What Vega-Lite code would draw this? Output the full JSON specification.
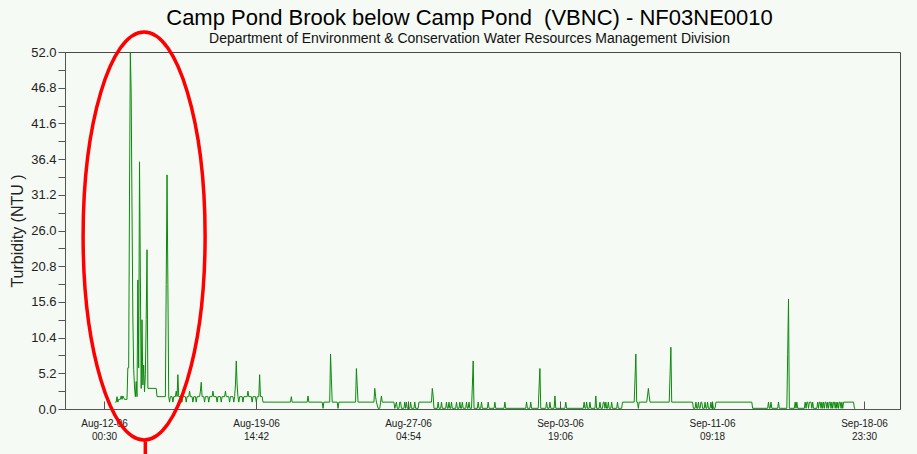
{
  "$schema": "https://vega.github.io/schema/vega-lite/v6.json",
  "autosize": {"type": "none"},
  "width": 835,
  "height": 357,
  "padding": {"left": 65, "top": 52, "right": 17, "bottom": 45},
  "background": "#f5faf5",
  "config": {
    "font": "Liberation Sans",
    "view": {"stroke": "#4a4a4a", "strokeWidth": 1, "fill": "#f5faf5"}
  },
  "title": {
    "text": "Camp Pond Brook below Camp Pond \u00a0(VBNC) - NF03NE0010",
    "subtitle": "Department of Environment & Conservation Water Resources Management Division",
    "font": "Liberation Sans",
    "subtitleFont": "Liberation Sans",
    "fontSize": 22,
    "subtitleFontSize": 14,
    "fontWeight": "normal",
    "color": "#000000",
    "subtitleColor": "#111111",
    "anchor": "middle",
    "dx": -13,
    "offset": -22,
    "subtitlePadding": 2
  },
  "resolve": {"axis": {"y": "independent"}},
  "layer": [
    {
      "data": {
        "values": [
          {"time": "2006-08-12T14:00", "turbidity": 1.0},
          {"time": "2006-08-12T15:00", "turbidity": 1.0},
          {"time": "2006-08-12T16:00", "turbidity": 1.8},
          {"time": "2006-08-12T17:00", "turbidity": 1.0},
          {"time": "2006-08-12T18:00", "turbidity": 1.4},
          {"time": "2006-08-12T20:00", "turbidity": 1.4},
          {"time": "2006-08-12T21:00", "turbidity": 1.9},
          {"time": "2006-08-12T22:00", "turbidity": 1.4},
          {"time": "2006-08-12T23:00", "turbidity": 1.9},
          {"time": "2006-08-13T01:00", "turbidity": 1.4},
          {"time": "2006-08-13T04:00", "turbidity": 1.4},
          {"time": "2006-08-13T05:00", "turbidity": 6.0},
          {"time": "2006-08-13T06:00", "turbidity": 6.0},
          {"time": "2006-08-13T07:00", "turbidity": 31.0},
          {"time": "2006-08-13T08:00", "turbidity": 52.0},
          {"time": "2006-08-13T09:00", "turbidity": 46.0},
          {"time": "2006-08-13T10:00", "turbidity": 29.0},
          {"time": "2006-08-13T11:00", "turbidity": 13.4},
          {"time": "2006-08-13T12:00", "turbidity": 5.8},
          {"time": "2006-08-13T13:00", "turbidity": 3.2},
          {"time": "2006-08-13T14:00", "turbidity": 1.8},
          {"time": "2006-08-13T15:00", "turbidity": 4.0},
          {"time": "2006-08-13T16:00", "turbidity": 1.8},
          {"time": "2006-08-13T17:00", "turbidity": 18.8},
          {"time": "2006-08-13T18:00", "turbidity": 6.0},
          {"time": "2006-08-13T19:00", "turbidity": 36.0},
          {"time": "2006-08-13T20:00", "turbidity": 19.5},
          {"time": "2006-08-13T21:00", "turbidity": 3.0},
          {"time": "2006-08-13T22:00", "turbidity": 13.0},
          {"time": "2006-08-13T23:00", "turbidity": 3.5},
          {"time": "2006-08-14T00:00", "turbidity": 6.4},
          {"time": "2006-08-14T01:00", "turbidity": 2.5},
          {"time": "2006-08-14T02:00", "turbidity": 5.0},
          {"time": "2006-08-14T03:00", "turbidity": 13.0},
          {"time": "2006-08-14T04:00", "turbidity": 23.2},
          {"time": "2006-08-14T05:00", "turbidity": 3.0},
          {"time": "2006-08-14T15:00", "turbidity": 3.0},
          {"time": "2006-08-14T16:00", "turbidity": 1.8},
          {"time": "2006-08-15T02:00", "turbidity": 1.8},
          {"time": "2006-08-15T03:00", "turbidity": 18.1},
          {"time": "2006-08-15T04:00", "turbidity": 34.1},
          {"time": "2006-08-15T05:00", "turbidity": 18.1},
          {"time": "2006-08-15T06:00", "turbidity": 1.8},
          {"time": "2006-08-15T07:00", "turbidity": 1.0},
          {"time": "2006-08-15T08:00", "turbidity": 1.8},
          {"time": "2006-08-15T10:00", "turbidity": 1.8},
          {"time": "2006-08-15T11:00", "turbidity": 1.0},
          {"time": "2006-08-15T12:00", "turbidity": 1.8},
          {"time": "2006-08-15T14:00", "turbidity": 1.8},
          {"time": "2006-08-15T15:00", "turbidity": 2.6},
          {"time": "2006-08-15T16:00", "turbidity": 1.8},
          {"time": "2006-08-15T17:00", "turbidity": 5.0},
          {"time": "2006-08-15T18:00", "turbidity": 1.8},
          {"time": "2006-08-15T20:00", "turbidity": 1.8},
          {"time": "2006-08-15T21:00", "turbidity": 1.0},
          {"time": "2006-08-15T22:00", "turbidity": 1.0},
          {"time": "2006-08-15T23:00", "turbidity": 1.8},
          {"time": "2006-08-16T02:00", "turbidity": 1.8},
          {"time": "2006-08-16T03:00", "turbidity": 1.0},
          {"time": "2006-08-16T04:00", "turbidity": 1.8},
          {"time": "2006-08-16T06:00", "turbidity": 1.8},
          {"time": "2006-08-16T07:00", "turbidity": 2.6},
          {"time": "2006-08-16T08:00", "turbidity": 1.8},
          {"time": "2006-08-16T10:00", "turbidity": 1.8},
          {"time": "2006-08-16T11:00", "turbidity": 1.0},
          {"time": "2006-08-16T12:00", "turbidity": 1.8},
          {"time": "2006-08-16T14:00", "turbidity": 1.8},
          {"time": "2006-08-16T15:00", "turbidity": 1.0},
          {"time": "2006-08-16T16:00", "turbidity": 1.8},
          {"time": "2006-08-16T19:00", "turbidity": 1.8},
          {"time": "2006-08-16T20:00", "turbidity": 2.6},
          {"time": "2006-08-16T21:00", "turbidity": 3.9},
          {"time": "2006-08-16T22:00", "turbidity": 1.8},
          {"time": "2006-08-17T00:00", "turbidity": 1.8},
          {"time": "2006-08-17T01:00", "turbidity": 1.0},
          {"time": "2006-08-17T02:00", "turbidity": 1.8},
          {"time": "2006-08-17T05:00", "turbidity": 1.8},
          {"time": "2006-08-17T06:00", "turbidity": 1.0},
          {"time": "2006-08-17T07:00", "turbidity": 1.8},
          {"time": "2006-08-17T10:00", "turbidity": 1.8},
          {"time": "2006-08-17T11:00", "turbidity": 2.6},
          {"time": "2006-08-17T12:00", "turbidity": 1.8},
          {"time": "2006-08-17T15:00", "turbidity": 1.8},
          {"time": "2006-08-17T16:00", "turbidity": 1.0},
          {"time": "2006-08-17T17:00", "turbidity": 1.8},
          {"time": "2006-08-17T20:00", "turbidity": 1.8},
          {"time": "2006-08-17T21:00", "turbidity": 1.0},
          {"time": "2006-08-17T22:00", "turbidity": 1.8},
          {"time": "2006-08-18T01:00", "turbidity": 1.8},
          {"time": "2006-08-18T02:00", "turbidity": 2.6},
          {"time": "2006-08-18T03:00", "turbidity": 1.8},
          {"time": "2006-08-18T06:00", "turbidity": 1.8},
          {"time": "2006-08-18T07:00", "turbidity": 1.0},
          {"time": "2006-08-18T08:00", "turbidity": 1.8},
          {"time": "2006-08-18T11:00", "turbidity": 1.8},
          {"time": "2006-08-18T12:00", "turbidity": 1.0},
          {"time": "2006-08-18T13:00", "turbidity": 1.8},
          {"time": "2006-08-18T14:00", "turbidity": 3.5},
          {"time": "2006-08-18T15:00", "turbidity": 7.0},
          {"time": "2006-08-18T16:00", "turbidity": 3.5},
          {"time": "2006-08-18T17:00", "turbidity": 1.8},
          {"time": "2006-08-18T18:00", "turbidity": 1.0},
          {"time": "2006-08-18T19:00", "turbidity": 1.8},
          {"time": "2006-08-18T22:00", "turbidity": 1.8},
          {"time": "2006-08-18T23:00", "turbidity": 1.0},
          {"time": "2006-08-19T00:00", "turbidity": 1.8},
          {"time": "2006-08-19T04:00", "turbidity": 1.8},
          {"time": "2006-08-19T05:00", "turbidity": 2.6},
          {"time": "2006-08-19T06:00", "turbidity": 1.8},
          {"time": "2006-08-19T09:00", "turbidity": 1.8},
          {"time": "2006-08-19T10:00", "turbidity": 1.0},
          {"time": "2006-08-19T11:00", "turbidity": 1.8},
          {"time": "2006-08-19T14:00", "turbidity": 1.8},
          {"time": "2006-08-19T15:00", "turbidity": 1.0},
          {"time": "2006-08-19T16:00", "turbidity": 1.8},
          {"time": "2006-08-19T18:00", "turbidity": 1.8},
          {"time": "2006-08-19T19:00", "turbidity": 5.0},
          {"time": "2006-08-19T20:00", "turbidity": 1.8},
          {"time": "2006-08-19T22:00", "turbidity": 1.8},
          {"time": "2006-08-19T23:00", "turbidity": 1.0},
          {"time": "2006-08-21T08:00", "turbidity": 1.0},
          {"time": "2006-08-21T09:00", "turbidity": 1.8},
          {"time": "2006-08-21T10:00", "turbidity": 1.0},
          {"time": "2006-08-22T04:00", "turbidity": 1.0},
          {"time": "2006-08-22T05:00", "turbidity": 1.9},
          {"time": "2006-08-22T06:00", "turbidity": 1.0},
          {"time": "2006-08-22T22:00", "turbidity": 1.0},
          {"time": "2006-08-22T23:00", "turbidity": 0.1},
          {"time": "2006-08-23T00:00", "turbidity": 1.0},
          {"time": "2006-08-23T07:00", "turbidity": 1.0},
          {"time": "2006-08-23T08:00", "turbidity": 8.0},
          {"time": "2006-08-23T09:00", "turbidity": 4.4},
          {"time": "2006-08-23T10:00", "turbidity": 1.0},
          {"time": "2006-08-23T16:00", "turbidity": 1.0},
          {"time": "2006-08-23T17:00", "turbidity": 0.1},
          {"time": "2006-08-23T18:00", "turbidity": 1.0},
          {"time": "2006-08-24T14:00", "turbidity": 1.0},
          {"time": "2006-08-24T15:00", "turbidity": 5.9},
          {"time": "2006-08-24T16:00", "turbidity": 3.4},
          {"time": "2006-08-24T17:00", "turbidity": 1.0},
          {"time": "2006-08-25T12:00", "turbidity": 1.0},
          {"time": "2006-08-25T13:00", "turbidity": 3.0},
          {"time": "2006-08-25T14:00", "turbidity": 1.8},
          {"time": "2006-08-25T15:00", "turbidity": 1.0},
          {"time": "2006-08-25T17:00", "turbidity": 0.1},
          {"time": "2006-08-25T19:00", "turbidity": 0.1},
          {"time": "2006-08-25T20:00", "turbidity": 1.0},
          {"time": "2006-08-25T21:00", "turbidity": 1.9},
          {"time": "2006-08-25T22:00", "turbidity": 1.0},
          {"time": "2006-08-26T12:00", "turbidity": 1.0},
          {"time": "2006-08-26T13:00", "turbidity": 0.1},
          {"time": "2006-08-26T15:00", "turbidity": 1.0},
          {"time": "2006-08-26T16:00", "turbidity": 0.1},
          {"time": "2006-08-26T18:00", "turbidity": 0.1},
          {"time": "2006-08-26T19:00", "turbidity": 1.0},
          {"time": "2006-08-26T20:00", "turbidity": 1.0},
          {"time": "2006-08-26T21:00", "turbidity": 0.1},
          {"time": "2006-08-27T00:00", "turbidity": 0.1},
          {"time": "2006-08-27T01:00", "turbidity": 1.0},
          {"time": "2006-08-27T02:00", "turbidity": 0.1},
          {"time": "2006-08-27T03:00", "turbidity": 1.0},
          {"time": "2006-08-27T04:00", "turbidity": 0.1},
          {"time": "2006-08-27T07:00", "turbidity": 0.1},
          {"time": "2006-08-27T08:00", "turbidity": 1.0},
          {"time": "2006-08-27T09:00", "turbidity": 0.1},
          {"time": "2006-08-27T12:00", "turbidity": 0.1},
          {"time": "2006-08-27T13:00", "turbidity": 1.0},
          {"time": "2006-08-27T14:00", "turbidity": 0.1},
          {"time": "2006-08-27T17:00", "turbidity": 0.1},
          {"time": "2006-08-27T18:00", "turbidity": 1.0},
          {"time": "2006-08-28T09:00", "turbidity": 1.0},
          {"time": "2006-08-28T10:00", "turbidity": 3.0},
          {"time": "2006-08-28T11:00", "turbidity": 1.9},
          {"time": "2006-08-28T12:00", "turbidity": 0.1},
          {"time": "2006-08-28T16:00", "turbidity": 0.1},
          {"time": "2006-08-28T17:00", "turbidity": 1.0},
          {"time": "2006-08-28T18:00", "turbidity": 0.1},
          {"time": "2006-08-28T20:00", "turbidity": 0.1},
          {"time": "2006-08-28T21:00", "turbidity": 1.0},
          {"time": "2006-08-28T22:00", "turbidity": 0.1},
          {"time": "2006-08-29T02:00", "turbidity": 0.1},
          {"time": "2006-08-29T03:00", "turbidity": 1.0},
          {"time": "2006-08-29T04:00", "turbidity": 0.1},
          {"time": "2006-08-29T05:00", "turbidity": 0.1},
          {"time": "2006-08-29T06:00", "turbidity": 1.0},
          {"time": "2006-08-29T07:00", "turbidity": 0.1},
          {"time": "2006-08-29T08:00", "turbidity": 0.1},
          {"time": "2006-08-29T09:00", "turbidity": 1.0},
          {"time": "2006-08-29T10:00", "turbidity": 0.1},
          {"time": "2006-08-29T14:00", "turbidity": 0.1},
          {"time": "2006-08-29T15:00", "turbidity": 1.0},
          {"time": "2006-08-29T16:00", "turbidity": 0.1},
          {"time": "2006-08-29T18:00", "turbidity": 0.1},
          {"time": "2006-08-29T19:00", "turbidity": 1.0},
          {"time": "2006-08-29T20:00", "turbidity": 0.1},
          {"time": "2006-08-29T21:00", "turbidity": 0.1},
          {"time": "2006-08-29T22:00", "turbidity": 1.0},
          {"time": "2006-08-29T23:00", "turbidity": 0.1},
          {"time": "2006-08-30T02:00", "turbidity": 0.1},
          {"time": "2006-08-30T03:00", "turbidity": 1.0},
          {"time": "2006-08-30T04:00", "turbidity": 0.1},
          {"time": "2006-08-30T05:00", "turbidity": 0.1},
          {"time": "2006-08-30T06:00", "turbidity": 1.0},
          {"time": "2006-08-30T07:00", "turbidity": 0.1},
          {"time": "2006-08-30T09:00", "turbidity": 0.1},
          {"time": "2006-08-30T10:00", "turbidity": 3.35},
          {"time": "2006-08-30T11:00", "turbidity": 7.0},
          {"time": "2006-08-30T12:00", "turbidity": 0.1},
          {"time": "2006-08-30T16:00", "turbidity": 0.1},
          {"time": "2006-08-30T17:00", "turbidity": 1.0},
          {"time": "2006-08-30T18:00", "turbidity": 0.1},
          {"time": "2006-08-30T20:00", "turbidity": 0.1},
          {"time": "2006-08-30T21:00", "turbidity": 1.0},
          {"time": "2006-08-30T22:00", "turbidity": 0.1},
          {"time": "2006-08-31T04:00", "turbidity": 0.1},
          {"time": "2006-08-31T05:00", "turbidity": 1.0},
          {"time": "2006-08-31T06:00", "turbidity": 0.1},
          {"time": "2006-08-31T12:00", "turbidity": 0.1},
          {"time": "2006-08-31T13:00", "turbidity": 1.0},
          {"time": "2006-08-31T14:00", "turbidity": 0.1},
          {"time": "2006-09-01T00:00", "turbidity": 0.1},
          {"time": "2006-09-01T01:00", "turbidity": 1.0},
          {"time": "2006-09-01T02:00", "turbidity": 0.1},
          {"time": "2006-09-02T02:00", "turbidity": 0.1},
          {"time": "2006-09-02T03:00", "turbidity": 1.0},
          {"time": "2006-09-02T04:00", "turbidity": 0.1},
          {"time": "2006-09-02T07:00", "turbidity": 0.1},
          {"time": "2006-09-02T08:00", "turbidity": 1.0},
          {"time": "2006-09-02T09:00", "turbidity": 0.1},
          {"time": "2006-09-02T17:00", "turbidity": 0.1},
          {"time": "2006-09-02T18:00", "turbidity": 3.2},
          {"time": "2006-09-02T19:00", "turbidity": 5.9},
          {"time": "2006-09-02T20:00", "turbidity": 0.1},
          {"time": "2006-09-03T02:00", "turbidity": 0.1},
          {"time": "2006-09-03T03:00", "turbidity": 1.0},
          {"time": "2006-09-03T04:00", "turbidity": 0.1},
          {"time": "2006-09-03T06:00", "turbidity": 0.1},
          {"time": "2006-09-03T07:00", "turbidity": 1.0},
          {"time": "2006-09-03T08:00", "turbidity": 0.1},
          {"time": "2006-09-03T12:00", "turbidity": 0.1},
          {"time": "2006-09-03T13:00", "turbidity": 1.9},
          {"time": "2006-09-03T14:00", "turbidity": 0.1},
          {"time": "2006-09-04T01:00", "turbidity": 0.1},
          {"time": "2006-09-04T02:00", "turbidity": 1.0},
          {"time": "2006-09-04T03:00", "turbidity": 0.1},
          {"time": "2006-09-04T23:00", "turbidity": 0.1},
          {"time": "2006-09-05T00:00", "turbidity": 1.0},
          {"time": "2006-09-05T01:00", "turbidity": 0.1},
          {"time": "2006-09-05T02:00", "turbidity": 0.1},
          {"time": "2006-09-05T03:00", "turbidity": 1.0},
          {"time": "2006-09-05T04:00", "turbidity": 0.1},
          {"time": "2006-09-05T06:00", "turbidity": 0.1},
          {"time": "2006-09-05T07:00", "turbidity": 1.0},
          {"time": "2006-09-05T08:00", "turbidity": 0.1},
          {"time": "2006-09-05T13:00", "turbidity": 0.1},
          {"time": "2006-09-05T14:00", "turbidity": 1.9},
          {"time": "2006-09-05T15:00", "turbidity": 0.1},
          {"time": "2006-09-05T18:00", "turbidity": 0.1},
          {"time": "2006-09-05T19:00", "turbidity": 1.0},
          {"time": "2006-09-05T20:00", "turbidity": 0.1},
          {"time": "2006-09-05T22:00", "turbidity": 0.1},
          {"time": "2006-09-05T23:00", "turbidity": 1.0},
          {"time": "2006-09-06T00:00", "turbidity": 1.0},
          {"time": "2006-09-06T01:00", "turbidity": 0.1},
          {"time": "2006-09-06T02:00", "turbidity": 1.0},
          {"time": "2006-09-06T03:00", "turbidity": 0.1},
          {"time": "2006-09-06T04:00", "turbidity": 0.1},
          {"time": "2006-09-06T05:00", "turbidity": 1.0},
          {"time": "2006-09-06T06:00", "turbidity": 0.1},
          {"time": "2006-09-06T08:00", "turbidity": 0.1},
          {"time": "2006-09-06T09:00", "turbidity": 1.0},
          {"time": "2006-09-06T10:00", "turbidity": 0.1},
          {"time": "2006-09-06T15:00", "turbidity": 0.1},
          {"time": "2006-09-06T16:00", "turbidity": 1.0},
          {"time": "2006-09-06T17:00", "turbidity": 0.1},
          {"time": "2006-09-06T21:00", "turbidity": 0.1},
          {"time": "2006-09-06T22:00", "turbidity": 1.0},
          {"time": "2006-09-07T12:00", "turbidity": 1.0},
          {"time": "2006-09-07T13:00", "turbidity": 4.4},
          {"time": "2006-09-07T14:00", "turbidity": 8.0},
          {"time": "2006-09-07T15:00", "turbidity": 1.0},
          {"time": "2006-09-07T16:00", "turbidity": 1.0},
          {"time": "2006-09-07T17:00", "turbidity": 0.1},
          {"time": "2006-09-07T18:00", "turbidity": 1.0},
          {"time": "2006-09-08T03:00", "turbidity": 1.0},
          {"time": "2006-09-08T04:00", "turbidity": 1.9},
          {"time": "2006-09-08T05:00", "turbidity": 3.0},
          {"time": "2006-09-08T06:00", "turbidity": 1.9},
          {"time": "2006-09-08T07:00", "turbidity": 1.0},
          {"time": "2006-09-09T06:00", "turbidity": 1.0},
          {"time": "2006-09-09T07:00", "turbidity": 5.0},
          {"time": "2006-09-09T08:00", "turbidity": 9.0},
          {"time": "2006-09-09T09:00", "turbidity": 1.0},
          {"time": "2006-09-10T10:00", "turbidity": 1.0},
          {"time": "2006-09-10T11:00", "turbidity": 0.1},
          {"time": "2006-09-10T13:00", "turbidity": 0.1},
          {"time": "2006-09-10T14:00", "turbidity": 1.0},
          {"time": "2006-09-10T15:00", "turbidity": 0.1},
          {"time": "2006-09-10T16:00", "turbidity": 0.1},
          {"time": "2006-09-10T17:00", "turbidity": 1.0},
          {"time": "2006-09-10T18:00", "turbidity": 0.1},
          {"time": "2006-09-10T19:00", "turbidity": 0.1},
          {"time": "2006-09-10T20:00", "turbidity": 1.0},
          {"time": "2006-09-10T21:00", "turbidity": 1.0},
          {"time": "2006-09-10T22:00", "turbidity": 0.1},
          {"time": "2006-09-11T00:00", "turbidity": 0.1},
          {"time": "2006-09-11T01:00", "turbidity": 1.0},
          {"time": "2006-09-11T02:00", "turbidity": 0.1},
          {"time": "2006-09-11T03:00", "turbidity": 0.1},
          {"time": "2006-09-11T04:00", "turbidity": 1.0},
          {"time": "2006-09-11T05:00", "turbidity": 0.1},
          {"time": "2006-09-11T07:00", "turbidity": 0.1},
          {"time": "2006-09-11T08:00", "turbidity": 1.0},
          {"time": "2006-09-11T09:00", "turbidity": 0.1},
          {"time": "2006-09-11T10:00", "turbidity": 1.0},
          {"time": "2006-09-11T11:00", "turbidity": 0.1},
          {"time": "2006-09-11T13:00", "turbidity": 0.1},
          {"time": "2006-09-11T14:00", "turbidity": 1.0},
          {"time": "2006-09-13T09:00", "turbidity": 1.0},
          {"time": "2006-09-13T10:00", "turbidity": 0.1},
          {"time": "2006-09-14T04:00", "turbidity": 0.1},
          {"time": "2006-09-14T05:00", "turbidity": 1.0},
          {"time": "2006-09-14T06:00", "turbidity": 0.1},
          {"time": "2006-09-14T07:00", "turbidity": 0.1},
          {"time": "2006-09-14T08:00", "turbidity": 1.0},
          {"time": "2006-09-14T09:00", "turbidity": 0.1},
          {"time": "2006-09-14T16:00", "turbidity": 0.1},
          {"time": "2006-09-14T17:00", "turbidity": 1.0},
          {"time": "2006-09-14T18:00", "turbidity": 0.1},
          {"time": "2006-09-15T03:00", "turbidity": 0.1},
          {"time": "2006-09-15T04:00", "turbidity": 7.9},
          {"time": "2006-09-15T05:00", "turbidity": 16.0},
          {"time": "2006-09-15T06:00", "turbidity": 0.1},
          {"time": "2006-09-15T12:00", "turbidity": 0.1},
          {"time": "2006-09-15T13:00", "turbidity": 1.0},
          {"time": "2006-09-15T14:00", "turbidity": 0.1},
          {"time": "2006-09-15T15:00", "turbidity": 1.0},
          {"time": "2006-09-15T16:00", "turbidity": 0.1},
          {"time": "2006-09-16T00:00", "turbidity": 0.1},
          {"time": "2006-09-16T01:00", "turbidity": 1.0},
          {"time": "2006-09-16T02:00", "turbidity": 0.1},
          {"time": "2006-09-16T03:00", "turbidity": 1.0},
          {"time": "2006-09-16T04:00", "turbidity": 1.0},
          {"time": "2006-09-16T05:00", "turbidity": 0.1},
          {"time": "2006-09-16T06:00", "turbidity": 1.0},
          {"time": "2006-09-16T08:00", "turbidity": 1.0},
          {"time": "2006-09-16T09:00", "turbidity": 0.1},
          {"time": "2006-09-16T10:00", "turbidity": 1.0},
          {"time": "2006-09-16T11:00", "turbidity": 0.1},
          {"time": "2006-09-16T15:00", "turbidity": 0.1},
          {"time": "2006-09-16T16:00", "turbidity": 1.0},
          {"time": "2006-09-16T17:00", "turbidity": 0.1},
          {"time": "2006-09-16T18:00", "turbidity": 1.0},
          {"time": "2006-09-16T19:00", "turbidity": 1.0},
          {"time": "2006-09-16T20:00", "turbidity": 0.1},
          {"time": "2006-09-16T21:00", "turbidity": 1.0},
          {"time": "2006-09-16T22:00", "turbidity": 0.1},
          {"time": "2006-09-16T23:00", "turbidity": 1.0},
          {"time": "2006-09-17T00:00", "turbidity": 0.1},
          {"time": "2006-09-17T01:00", "turbidity": 1.0},
          {"time": "2006-09-17T02:00", "turbidity": 1.0},
          {"time": "2006-09-17T03:00", "turbidity": 0.1},
          {"time": "2006-09-17T04:00", "turbidity": 1.0},
          {"time": "2006-09-17T05:00", "turbidity": 0.1},
          {"time": "2006-09-17T06:00", "turbidity": 1.0},
          {"time": "2006-09-17T07:00", "turbidity": 1.0},
          {"time": "2006-09-17T08:00", "turbidity": 0.1},
          {"time": "2006-09-17T09:00", "turbidity": 1.0},
          {"time": "2006-09-17T10:00", "turbidity": 0.1},
          {"time": "2006-09-17T11:00", "turbidity": 1.0},
          {"time": "2006-09-17T12:00", "turbidity": 1.0},
          {"time": "2006-09-17T13:00", "turbidity": 0.1},
          {"time": "2006-09-17T14:00", "turbidity": 1.0},
          {"time": "2006-09-17T15:00", "turbidity": 0.1},
          {"time": "2006-09-17T16:00", "turbidity": 1.0},
          {"time": "2006-09-17T17:00", "turbidity": 0.1},
          {"time": "2006-09-17T18:00", "turbidity": 1.0},
          {"time": "2006-09-17T19:00", "turbidity": 1.0},
          {"time": "2006-09-17T20:00", "turbidity": 0.1},
          {"time": "2006-09-17T21:00", "turbidity": 1.0},
          {"time": "2006-09-17T22:00", "turbidity": 0.1},
          {"time": "2006-09-17T23:00", "turbidity": 1.0},
          {"time": "2006-09-18T11:00", "turbidity": 1.0},
          {"time": "2006-09-18T12:00", "turbidity": 0.1},
          {"time": "2006-09-18T13:00", "turbidity": 0.1}
        ]
      },
      "mark": {"type": "line", "color": "#0b8a0b", "strokeWidth": 1, "interpolate": "linear"},
      "encoding": {
        "x": {
          "field": "time",
          "type": "temporal",
          "scale": {
            "domain": [
              {"year": 2006, "month": 8, "date": 10, "hours": 1, "minutes": 40},
              {"year": 2006, "month": 9, "date": 20, "hours": 18, "minutes": 40}
            ]
          },
          "axis": {
            "title": null,
            "grid": false,
            "values": [
              {"year": 2006, "month": 8, "date": 12, "hours": 0, "minutes": 30},
              {"year": 2006, "month": 8, "date": 19, "hours": 14, "minutes": 42},
              {"year": 2006, "month": 8, "date": 27, "hours": 4, "minutes": 54},
              {"year": 2006, "month": 9, "date": 3, "hours": 19, "minutes": 6},
              {"year": 2006, "month": 9, "date": 11, "hours": 9, "minutes": 18},
              {"year": 2006, "month": 9, "date": 18, "hours": 23, "minutes": 30}
            ],
            "labelExpr": "[timeFormat(datum.value, '%b-%d-%y'), timeFormat(datum.value, '%H:%M')]",
            "labelFont": "Liberation Sans",
            "labelFontSize": 10,
            "labelLineHeight": 13,
            "labelColor": "#222222",
            "labelOverlap": false,
            "labelFlush": false,
            "labelPadding": 17,
            "tickSize": -8,
            "tickColor": "#555555",
            "domainColor": "#555555"
          }
        },
        "y": {
          "field": "turbidity",
          "type": "quantitative",
          "scale": {"domain": [0, 52], "nice": false, "zero": true},
          "axis": {
            "orient": "left",
            "title": "Turbidity (NTU )",
            "titleFont": "Liberation Sans",
            "titleFontSize": 16,
            "titleFontWeight": "normal",
            "titleColor": "#222222",
            "titleX": -48,
            "titleY": 178.5,
            "titleAngle": 270,
            "titleAlign": "center",
            "titleBaseline": "middle",
            "grid": false,
            "values": [0, 5.2, 10.4, 15.6, 20.8, 26, 31.2, 36.4, 41.6, 46.8, 52],
            "format": ".1f",
            "labelFont": "Liberation Sans",
            "labelFontSize": 13,
            "labelColor": "#222222",
            "labelOverlap": false,
            "labelPadding": 2,
            "tickSize": 7,
            "tickColor": "#555555",
            "domainColor": "#555555"
          }
        }
      }
    },
    {
      "data": {"values": [{"time": "2006-08-14T00:30", "turbidity": 25.2}]},
      "mark": {
        "type": "point",
        "shape": "M -0.299 0 A 0.299 1 0 1 0 0.299 0 A 0.299 1 0 1 0 -0.299 0 Z M 0.006 1 L 0.006 1.07",
        "size": 166464,
        "filled": false,
        "stroke": "#ff0000",
        "strokeWidth": 3.5,
        "opacity": 1
      },
      "encoding": {
        "x": {"field": "time", "type": "temporal"},
        "y": {
          "field": "turbidity",
          "type": "quantitative",
          "axis": {
            "orient": "left",
            "title": null,
            "grid": false,
            "labels": false,
            "domain": false,
            "values": [2.6, 7.8, 13, 18.2, 23.4, 28.6, 33.8, 39, 44.2, 49.4],
            "tickSize": 7,
            "tickColor": "#555555",
            "offset": 0
          }
        }
      }
    }
  ]
}
